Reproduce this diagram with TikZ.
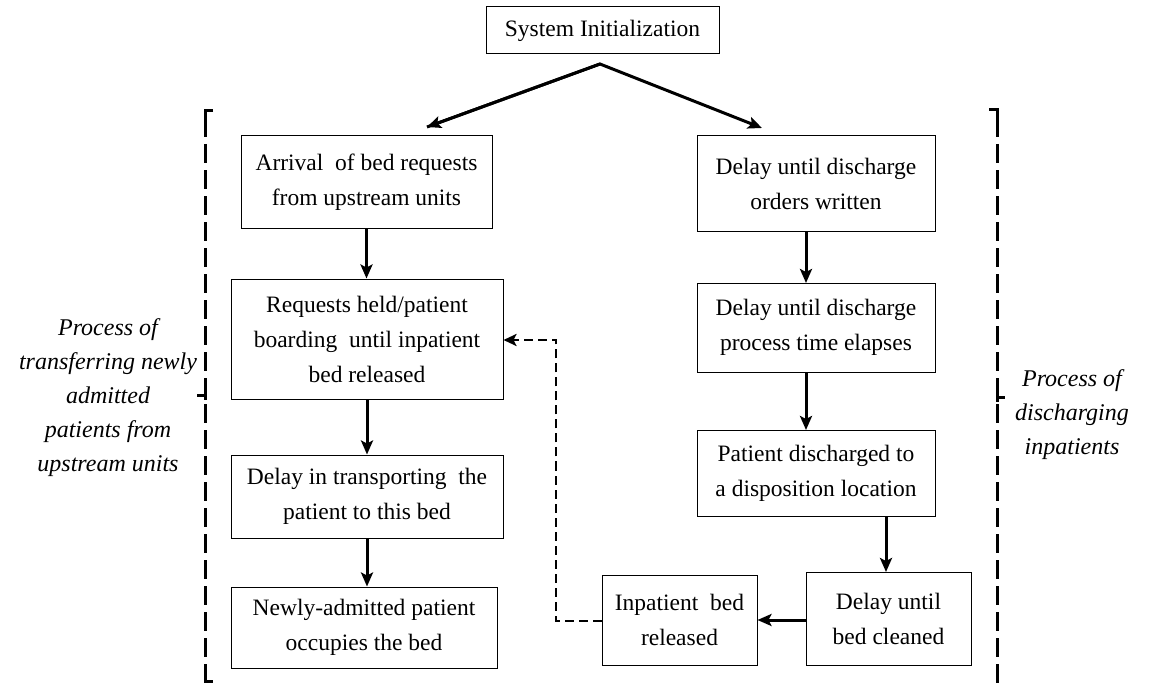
\documentclass[tikz,border=0pt]{standalone}
\usepackage{fontspec}
\setmainfont{Liberation Serif}
\usetikzlibrary{arrows.meta}
\begin{document}
\begin{tikzpicture}[x=1bp,y=-1bp,
  box/.style={draw=black, line width=1bp, align=center, inner sep=0pt,
    font=\fontsize{23.5bp}{35bp}\selectfont},
  flow/.style={line width=3bp, -{Stealth[length=14bp,width=12bp,inset=3bp]}},
  back/.style={line width=2.6bp, dash pattern=on 9bp off 5bp,
    -{Stealth[length=13bp,width=12bp,inset=3bp]}},
  brace/.style={line width=3bp, dash pattern=on 19bp off 7bp},
  hook/.style={line width=3bp},
  side/.style={align=center, font=\fontsize{24bp}{34bp}\selectfont\itshape}]
\useasboundingbox (0,0) rectangle (1151,683);

% process boxes
\node[box, minimum width=233bp, minimum height=47bp] (init) at (602.5,30.5) {System Initialization};
\node[box, minimum width=251bp, minimum height=92bp] (arrive) at (366.5,182) {Arrival\ \ of bed requests\\from upstream units};
\node[box, minimum width=272bp, minimum height=120bp] (held) at (367,339) {Requests held/patient\\boarding\ \ until inpatient\\bed released};
\node[box, minimum width=272bp, minimum height=83bp] (transport) at (367,496.5) {Delay in transporting\ \ the\\patient to this bed};
\node[box, minimum width=266bp, minimum height=81bp] (occupy) at (364,627.5) {Newly-admitted patient\\occupies the bed};
\node[box, minimum width=238bp, minimum height=95bp] (orders) at (816,183.5) {Delay until discharge\\orders written};
\node[box, minimum width=238bp, minimum height=89bp] (elapse) at (816,327.5) {Delay until discharge\\process time elapses};
\node[box, minimum width=238bp, minimum height=86bp] (discharged) at (816,473) {Patient discharged\ to\\a disposition location};
\node[box, minimum width=165bp, minimum height=93bp] (cleaned) at (888.5,618.5) {Delay until\\bed cleaned};
\node[box, minimum width=155bp, minimum height=90bp] (released) at (679.5,620) {Inpatient\ \ bed\\released};

% split below the initialization box
\coordinate (apex) at (600,64);
\coordinate (leftend) at (427,127);
\coordinate (rightend) at (762,128);
\draw[flow, line join=miter] (leftend) -- (apex) -- (rightend);
\draw[flow] (apex) -- (leftend);

% left column
\draw[flow] (arrive.south) -- (arrive.south |- held.north);
\draw[flow] (held.south) -- (transport.north);
\draw[flow] (transport.south) -- (transport.south |- occupy.north);

% right column
\draw[flow] (orders.south -| 806,0) -- (806,283);
\draw[flow] (806,372) -- (806,430);
\draw[flow] (886,516) -- (886,572);
\draw[flow] (cleaned.west |- 0,620) -- (released.east |- 0,620);

% released bed returns to the waiting requests
\coordinate (bendlow) at (556,621);
\coordinate (bendhigh) at (556,340);
\draw[back] (released.west |- bendlow) -- (bendlow) -- (bendhigh) -- (held.east |- bendhigh);

% left bracket
\draw[brace] (205,118) -- (205,683);
\draw[hook] (213,111) -- (205,111) -- (205,120);
\draw[hook] (205,390) -- (205,400);
\draw[hook] (205,395) -- (197,395);
\draw[hook] (205,672) -- (205,681) -- (213,681);

% right bracket
\draw[brace] (997,118) -- (997,683);
\draw[hook] (989,110) -- (997,110) -- (997,120);
\draw[hook] (997,392) -- (997,402);
\draw[hook] (997,397) -- (1005,397);

% side labels
\node[side] (lefttext) at (108,398) {Process of\\transferring newly\\admitted\\patients from\\upstream units};
\node[side] (righttext) at (1072,415) {Process of\\discharging\\inpatients};
\end{tikzpicture}
\end{document}
